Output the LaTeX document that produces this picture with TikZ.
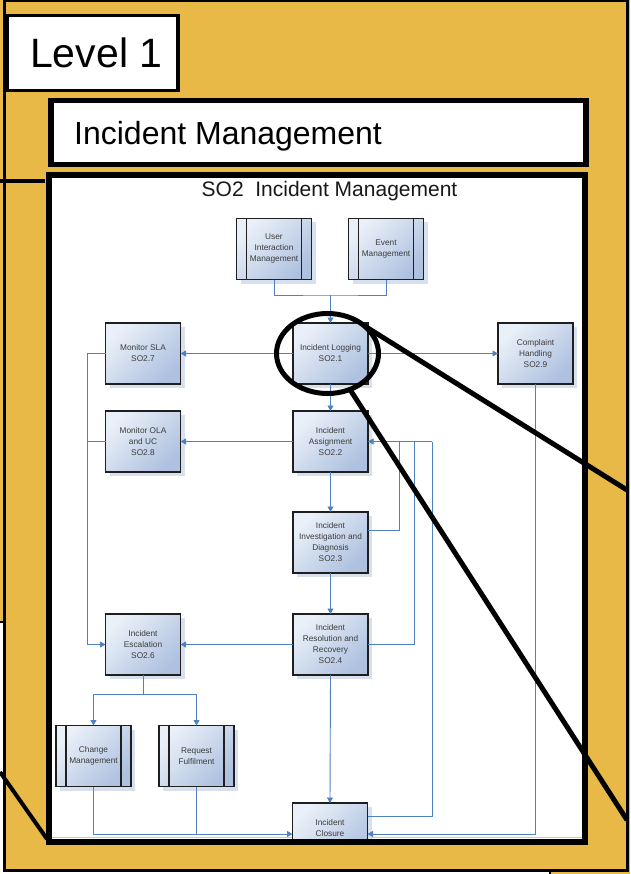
\documentclass[tikz,border=0pt]{standalone}
\usepackage{fontspec}
\setmainfont{Liberation Sans}
\usetikzlibrary{arrows.meta,shapes.geometric,shadows}
\definecolor{gold}{RGB}{232,185,70}
\definecolor{linec}{RGB}{79,129,189}
\definecolor{boxlight}{RGB}{234,240,248}
\definecolor{boxdark}{RGB}{174,193,224}
\definecolor{shadowc}{RGB}{216,224,237}
\definecolor{txtc}{RGB}{60,60,60}
\begin{document}
\begin{tikzpicture}[x=1pt,y=-1pt,
  proc/.style={rectangle, draw=black!88, line width=1.3pt, minimum width=75pt, minimum height=61pt,
    inner sep=1pt, outer sep=0pt, top color=boxlight, bottom color=boxdark, shading angle=45,
    align=center, font=\fontsize{8.3}{11}\selectfont, text=txtc,
    drop shadow={shadow xshift=4pt, shadow yshift=-4pt, fill=shadowc, opacity=1}},
  pre/.style={proc, line width=1.8pt},
  conn/.style={draw=linec, line width=0.9pt},
  arr/.style={conn, -{Triangle[length=5.5pt,width=6pt]}},
  heavy/.style={draw=black, line width=5pt},
  frame/.style={draw=black},
]
\useasboundingbox (0,0) rectangle (630,874);
% background
\fill[gold] (0,0) rectangle (630,874);
\fill[white] (0,871.5) rectangle (550,874);
\fill[white] (0,622) rectangle (3,874);
\draw[frame, line width=3pt] (4.5,1) rectangle (627.5,870);
\draw[line width=1.5pt] (550,871) -- (550,874);
\draw[line width=2pt] (0,622) -- (4,622);

% Level 1 box
\draw[frame, fill=white, line width=3.5pt] (7.5,15.5) rectangle (178,90.5);
\node[font=\fontsize{41}{45}\selectfont, anchor=base west, inner sep=0] (lvl) at (30,68) {Level 1};

% Incident Management box
\draw[frame, fill=white, line width=5.5pt] (51,100.5) rectangle (586,164.5);
\node[font=\fontsize{32}{36}\selectfont, anchor=base west, inner sep=0] (imt) at (74,145) {Incident Management};

% slide content
\begin{scope}
\clip (48.5,175.5) rectangle (584.5,838.5);
\fill[white] (48.5,175.5) rectangle (584.5,841.5);
\draw[black!22, line width=1.5pt] (48.5,837.5) -- (584.5,837.5);
\node[font=\fontsize{21}{25}\selectfont, anchor=base, inner sep=0, text=black!90] (title) at (329.5,197) {SO2\ \ Incident Management};

\node[pre] (uim) at (274,249) {User\\Interaction\\Management};
\node[pre] (em) at (386,249) {Event\\Management};
\node[proc] (log) at (330.5,353.5) {Incident Logging\\SO2.1};
\node[proc] (sla) at (143,353.5) {Monitor SLA\\SO2.7};
\node[proc] (cmp) at (535.5,353.5) {Complaint\\Handling\\SO2.9};
\node[proc] (asg) at (330.5,441.5) {Incident\\Assignment\\SO2.2};
\node[proc] (ola) at (143,441.5) {Monitor OLA\\and UC\\SO2.8};
\node[proc] (inv) at (330.5,542.5) {Incident\\Investigation and\\Diagnosis\\SO2.3};
\node[proc] (res) at (330.5,644.5) {Incident\\Resolution and\\Recovery\\SO2.4};
\node[proc] (esc) at (143,644.5) {Incident\\Escalation\\SO2.6};
\node[pre] (chg) at (93.5,756) {Change\\Management};
\node[pre] (req) at (196.5,756) {Request\\Fulfilment};
\node[proc] (cls) at (330,833.5) {Incident\\Closure\\\phantom{SO2.5}};
\foreach \n in {uim,em,chg,req}{
  \draw[line width=1.8pt, black!88] ([xshift=10pt]\n.north west) -- ([xshift=10pt]\n.south west)
    ([xshift=-10pt]\n.north east) -- ([xshift=-10pt]\n.south east);
}

% connectors
\coordinate (j1) at (330.5,295);
\draw[conn] (uim.south) |- (j1) -| (em.south);
\draw[arr] (j1) -- (log.north);
\draw[arr] (log.west) -- (sla.east);
\draw[arr] (log.east) -- (cmp.west);
\draw[arr] (log.south) -- (asg.north);
\draw[arr] (asg.west) -- (ola.east);
\draw[arr] (asg.south) -- (inv.north);
\draw[arr] (inv.south) -- (res.north);
\draw[arr] (res.west) -- (esc.east);
\draw[arr] (res.south) -- (cls.north);
\coordinate (lb) at (87,353.5);
\coordinate (lo) at (87,441.5);
\draw[conn] (sla.west) -- (lb);
\draw[conn] (ola.west) -- (lo);
\draw[arr] (lb) |- (esc.west);
\coordinate (ej) at (143,694);
\draw[conn] (esc.south) -- (ej);
\draw[arr] (ej) -| (chg.north);
\draw[arr] (ej) -| (req.north);
\coordinate (cj) at (93.5,834);
\draw[arr] (chg.south) -- (cj) -- (cj -| cls.west);
\draw[conn] (req.south) -- (req.south |- cj);
\draw[arr] (cmp.south) |- (cj -| cls.east);
\coordinate (fa) at (432,441.5);
\coordinate (f1) at (399,530);
\coordinate (f1t) at (399,441.5);
\coordinate (f2) at (414,644.5);
\coordinate (f2t) at (414,441.5);
\coordinate (f3) at (432,816);
\draw[arr] (fa) -- (asg.east);
\draw[conn] (f1 -| inv.east) -- (f1) -- (f1t);
\draw[conn] (res.east) -- (f2) -- (f2t);
\draw[conn] (f3 -| cls.east) -- (f3) -- (fa);
\end{scope}

% SO2 frame
\draw[frame, line width=6pt] (48.5,175.5) rectangle (584.5,841.5);

% lens and zoom lines
\node[draw, ellipse, line width=5pt, minimum width=102pt, minimum height=80pt, inner sep=0pt, outer sep=0pt] (lens) at (327.5,353.5) {};
\coordinate (ua) at (627,490);
\coordinate (la) at (627,820);
\draw[heavy] (lens.37) -- (ua);
\draw[heavy] (lens.-58) -- (la);

% left stubs
\coordinate (s1a) at (0,181);
\coordinate (s1b) at (45,181);
\draw[line width=4pt] (s1a) -- (s1b);
\coordinate (s2a) at (0,772);
\coordinate (s2b) at (47,839);
\draw[line width=4pt] (s2a) -- (s2b);
\end{tikzpicture}
\end{document}
